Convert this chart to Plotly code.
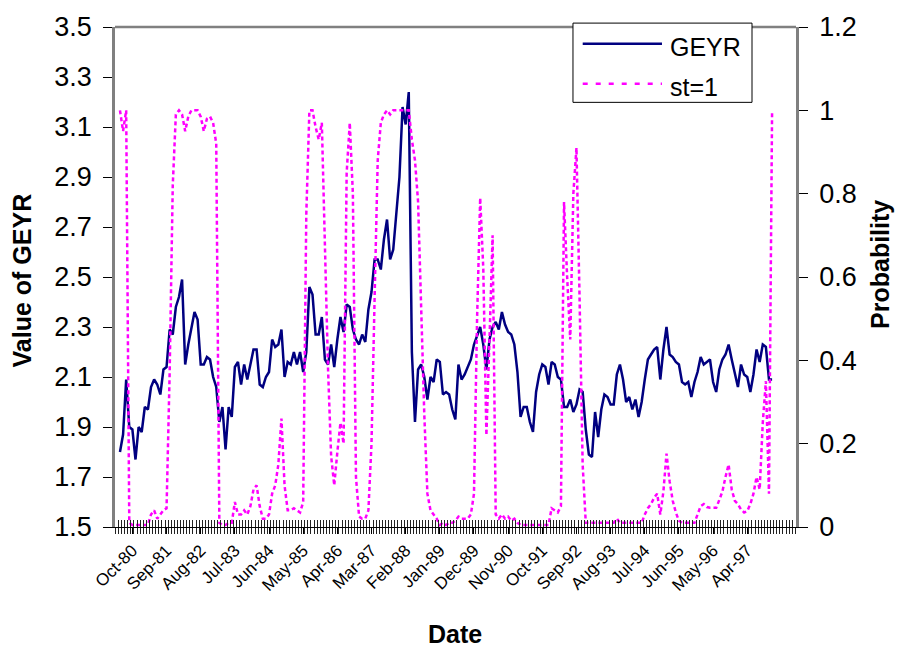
import plotly.graph_objects as go
import pandas as pd

# ---- data (monthly) ----
GEYR = [
    1.80, 1.87, 2.09, 1.90, 1.89, 1.77, 1.90, 1.88, 1.98, 1.97,
    2.06, 2.09, 2.07, 2.03, 2.13, 2.14, 2.29, 2.27, 2.38, 2.42,
    2.49, 2.15, 2.23, 2.29, 2.36, 2.33, 2.15, 2.15, 2.18, 2.17,
    2.10, 2.06, 1.92, 1.98, 1.81, 1.98, 1.94, 2.14, 2.16, 2.07,
    2.15, 2.09, 2.15, 2.21, 2.21, 2.07, 2.06, 2.10, 2.12, 2.25,
    2.22, 2.23, 2.29, 2.10, 2.16, 2.15, 2.20, 2.15, 2.20, 2.12,
    2.20, 2.46, 2.43, 2.27, 2.27, 2.34, 2.17, 2.15, 2.23, 2.14,
    2.25, 2.34, 2.28, 2.39, 2.38, 2.29, 2.25, 2.23, 2.27, 2.24,
    2.37, 2.44, 2.57, 2.57, 2.53, 2.65, 2.73, 2.57, 2.61, 2.76,
    2.90, 3.18, 3.11, 3.24, 2.20, 1.92, 2.13, 2.15, 2.10, 2.01,
    2.10, 2.08, 2.17, 2.16, 2.03, 2.04, 2.03, 1.97, 1.93, 2.15,
    2.09, 2.11, 2.14, 2.17, 2.23, 2.27, 2.30, 2.23, 2.13, 2.25,
    2.30, 2.32, 2.29, 2.36, 2.31, 2.28, 2.27, 2.23, 2.12, 1.94,
    1.98, 1.98, 1.92, 1.88, 2.04, 2.11, 2.15, 2.14, 2.07, 2.16,
    2.15, 2.10, 2.09, 1.98, 1.98, 2.01, 1.96, 1.99, 2.05, 2.04,
    1.89, 1.79, 1.78, 1.96, 1.86, 1.97, 2.03, 2.02, 1.99, 1.99,
    2.11, 2.15, 2.09, 2.00, 2.02, 1.97, 2.01, 1.94, 2.00, 2.09,
    2.17, 2.19, 2.21, 2.22, 2.09, 2.21, 2.30, 2.19, 2.18, 2.16,
    2.15, 2.08, 2.07, 2.08, 2.02, 2.08, 2.12, 2.18, 2.15, 2.16,
    2.17, 2.08, 2.04, 2.13, 2.17, 2.19, 2.23, 2.17, 2.11, 2.06,
    2.15, 2.11, 2.10, 2.04, 2.11, 2.21, 2.16, 2.23, 2.22, 2.09, 2.09,
]

PROB = [
    1.00, 0.95, 1.00, 0.01, 0.005, 0.005, 0.005, 0.005, 0.005, 0.005,
    0.03, 0.04, 0.02, 0.03, 0.04, 0.045, 0.37, 0.82, 0.99, 1.00,
    0.99, 0.95, 0.985, 1.00, 1.00, 1.00, 0.985, 0.95, 0.98, 0.985,
    0.97, 0.92, 0.01, 0.005, 0.005, 0.01, 0.01, 0.06, 0.03, 0.03,
    0.04, 0.03, 0.05, 0.09, 0.10, 0.05, 0.02, 0.02, 0.03, 0.08,
    0.10, 0.15, 0.26, 0.10, 0.04, 0.04, 0.045, 0.04, 0.035, 0.06,
    0.75, 1.00, 1.00, 0.96, 0.93, 0.97, 0.68, 0.38, 0.17, 0.10,
    0.18, 0.25, 0.20, 0.85, 0.97, 0.80, 0.12, 0.025, 0.02, 0.02,
    0.04, 0.20, 0.55, 0.88, 0.97, 0.99, 1.00, 0.99, 1.00, 1.00,
    1.00, 1.00, 1.00, 1.00, 0.93, 0.88, 0.78, 0.52, 0.27, 0.08,
    0.04, 0.03, 0.02, 0.005, 0.01, 0.005, 0.01, 0.01, 0.015, 0.025,
    0.02, 0.02, 0.02, 0.03, 0.08, 0.50, 0.79, 0.62, 0.22, 0.45,
    0.70, 0.03, 0.02, 0.03, 0.02, 0.025, 0.015, 0.02, 0.01, 0.005,
    0.005, 0.005, 0.005, 0.005, 0.005, 0.005, 0.005, 0.005, 0.005, 0.045,
    0.04, 0.035, 0.05, 0.78, 0.60, 0.45, 0.80, 0.91, 0.55, 0.15,
    0.01, 0.01, 0.01, 0.01, 0.01, 0.01, 0.01, 0.01, 0.01, 0.01,
    0.02, 0.01, 0.01, 0.01, 0.01, 0.01, 0.01, 0.01, 0.01, 0.03,
    0.045, 0.055, 0.07, 0.08, 0.03, 0.085, 0.176, 0.11, 0.063, 0.035,
    0.015, 0.01, 0.01, 0.01, 0.01, 0.01, 0.03, 0.05, 0.055, 0.048,
    0.046, 0.046, 0.046, 0.065, 0.085, 0.12, 0.15, 0.09, 0.063, 0.055,
    0.042, 0.035, 0.038, 0.055, 0.08, 0.12, 0.09, 0.25, 0.35, 0.08, 1.00,
]

TICK_LABELS = ["Oct-80", "Sep-81", "Aug-82", "Jul-83", "Jun-84", "May-85",
               "Apr-86", "Mar-87", "Feb-88", "Jan-89", "Dec-89", "Nov-90",
               "Oct-91", "Sep-92", "Aug-93", "Jul-94", "Jun-95", "May-96",
               "Apr-97"]

MONTHS = list(pd.date_range("1980-06-01", periods=len(GEYR), freq="MS").strftime("%b-%y"))
X = list(range(len(MONTHS)))
TICKVALS = [MONTHS.index(t) for t in TICK_LABELS]

FONT = "Liberation Sans, Arial, Helvetica, sans-serif"
NAVY = "#000080"
MAGENTA = "#FF00FF"
GRAY = "#808080"

fig = go.Figure()
fig.add_trace(go.Scatter(x=X, y=GEYR, mode="lines", name="GEYR",
                         line=dict(color=NAVY, width=2.5),
                         xaxis="x", yaxis="y", showlegend=False))
fig.add_trace(go.Scatter(x=X, y=PROB, mode="lines", name="st=1",
                         line=dict(color=MAGENTA, width=2.5, dash="4px,3px"),
                         xaxis="x2", yaxis="y2", showlegend=False))

XRANGE = [-1.6, 217.7]

fig.update_layout(
    width=897, height=652,
    margin=dict(l=115, r=101, t=16, b=125),
    paper_bgcolor="white", plot_bgcolor="white",
    font=dict(family=FONT, color="black"),
    showlegend=False,
    xaxis=dict(
        range=XRANGE, tickmode="array", tickvals=TICKVALS, ticktext=TICK_LABELS,
        tickangle=-45, tickfont=dict(size=17, family=FONT),
        ticks="outside", ticklen=6, tickwidth=1, tickcolor="black",
        minor=dict(tick0=0.5, dtick=1, ticks="outside", ticklen=6,
                   tickwidth=1, tickcolor="#222222", showgrid=False),
        showline=True, linecolor="black", linewidth=1,
        showgrid=False, zeroline=False,
    ),
    xaxis2=dict(
        overlaying="x", matches="x", anchor="y2", side="bottom",
        showticklabels=False, tickmode="linear", tick0=0.5, dtick=1,
        ticks="inside", ticklen=7, tickwidth=1, tickcolor="#222222",
        showline=False, showgrid=False, zeroline=False,
    ),
    yaxis=dict(
        range=[1.5, 3.5], tickmode="linear", tick0=1.5, dtick=0.2,
        tickformat=".1f", tickfont=dict(size=27, family=FONT),
        ticks="outside", ticklen=9, tickwidth=1, tickcolor="black",
        ticklabelstandoff=6,
        showline=True, linecolor=GRAY, linewidth=2.5,
        showgrid=False, zeroline=False,
    ),
    yaxis2=dict(
        range=[0, 1.2], tickmode="linear", tick0=0, dtick=0.2,
        overlaying="y", side="right", anchor="x2",
        tickfont=dict(size=27, family=FONT),
        ticks="outside", ticklen=9, tickwidth=1, tickcolor="black",
        ticklabelstandoff=6,
        showline=True, linecolor=GRAY, linewidth=2.5,
        showgrid=False, zeroline=False,
    ),
)

# plot-area top border
fig.add_shape(type="line", xref="paper", yref="paper", x0=0, x1=1, y0=1, y1=1,
              line=dict(color=GRAY, width=2.5))

# axis titles
fig.add_annotation(text="<b>Value of GEYR</b>", xref="paper", yref="paper",
                   x=-0.1366, y=0.493, textangle=-90, showarrow=False,
                   font=dict(size=25, family=FONT), xanchor="center", yanchor="middle")
fig.add_annotation(text="<b>Probability</b>", xref="paper", yref="paper",
                   x=1.1233, y=0.526, textangle=-90, showarrow=False,
                   font=dict(size=25, family=FONT), xanchor="center", yanchor="middle")
fig.add_annotation(text="<b>Date</b>", xref="paper", yref="paper",
                   x=0.4993, y=-0.2133, showarrow=False,
                   font=dict(size=25, family=FONT), xanchor="center", yanchor="middle")

# legend box (drawn)
fig.add_shape(type="rect", xref="paper", yref="paper",
              x0=0.6725, x1=0.9354, y0=0.8493, y1=1.0078,
              line=dict(color="black", width=1), fillcolor="white", layer="above")
fig.add_shape(type="line", xref="paper", yref="paper",
              x0=0.6868, x1=0.8032, y0=0.9667, y1=0.9667,
              line=dict(color=NAVY, width=2.5), layer="above")
fig.add_shape(type="line", xref="paper", yref="paper",
              x0=0.6868, x1=0.8032, y0=0.8865, y1=0.8865,
              line=dict(color=MAGENTA, width=2.5, dash="5px,8px"), layer="above")
fig.add_annotation(text="GEYR", xref="paper", yref="paper", x=0.812, y=0.960,
                   showarrow=False, xanchor="left", yanchor="middle",
                   font=dict(size=25, family=FONT))
fig.add_annotation(text="st=1", xref="paper", yref="paper", x=0.812, y=0.880,
                   showarrow=False, xanchor="left", yanchor="middle",
                   font=dict(size=25, family=FONT))

fig.write_html("out.html", config={"displayModeBar": False},
               post_script="document.body.style.margin='0';document.body.style.overflow='hidden';")
